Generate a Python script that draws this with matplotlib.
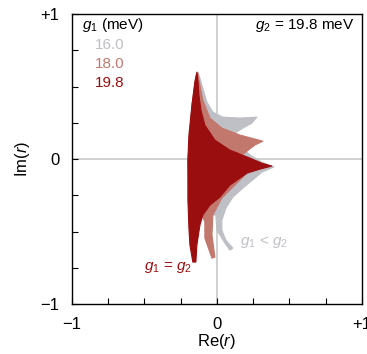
import matplotlib
matplotlib.use("Agg")
import matplotlib.pyplot as plt
from matplotlib.ticker import MultipleLocator

plt.rcParams.update({
    "font.family": "Liberation Sans",
    "font.size": 10,
    "mathtext.fontset": "custom",
    "mathtext.rm": "Liberation Sans",
    "mathtext.it": "Liberation Sans:italic",
})

# outlines of the regions swept by the r(omega) curves, one per g1 value
g1_labels = ["16.0", "18.0", "19.8"]
colors = ["#bfbfc6", "#c2786d", "#9b0e10"]

re_16 = [-0.131, -0.117, -0.103, -0.069, -0.028, 0.041, 0.159, 0.276, 0.241, 0.179,
         0.124, 0.159, 0.228, 0.310, 0.393, 0.310, 0.262, 0.179, 0.110, 0.062,
         0.034, 0.034, 0.062, 0.110, 0.090, 0.055, 0.000, -0.007, -0.117, -0.186,
         -0.200, -0.172, -0.145]
im_16 = [0.600, 0.559, 0.510, 0.393, 0.324, 0.290, 0.283, 0.290, 0.248, 0.214,
         0.179, 0.097, 0.028, -0.021, -0.055, -0.090, -0.131, -0.200, -0.262, -0.338,
         -0.421, -0.490, -0.559, -0.614, -0.628, -0.579, -0.490, -0.386, -0.386, -0.490,
         -0.007, 0.372, 0.572]

re_18 = [-0.131, -0.124, -0.097, -0.048, 0.034, 0.159, 0.317, 0.262, 0.172, 0.228,
         0.207, 0.124, 0.034, -0.028, -0.034, -0.014, -0.034, -0.083, -0.083, -0.117,
         -0.186, -0.200, -0.172, -0.145]
im_18 = [0.593, 0.545, 0.407, 0.283, 0.214, 0.166, 0.124, 0.097, 0.028, -0.041,
         -0.097, -0.179, -0.269, -0.386, -0.524, -0.676, -0.683, -0.545, -0.434, -0.352,
         -0.421, -0.007, 0.372, 0.572]

re_198 = [-0.138, -0.131, -0.124, -0.110, -0.083, -0.014, 0.090, 0.228, 0.310, 0.379,
          0.297, 0.207, 0.090, 0.021, -0.048, -0.097, -0.117, -0.138, -0.145, -0.166,
          -0.186, -0.193, -0.200, -0.200, -0.193, -0.172, -0.152]
im_198 = [0.600, 0.545, 0.441, 0.338, 0.234, 0.131, 0.062, 0.007, -0.028, -0.048,
          -0.069, -0.097, -0.179, -0.262, -0.317, -0.386, -0.455, -0.593, -0.710, -0.710,
          -0.593, -0.476, -0.283, -0.007, 0.166, 0.372, 0.531]

fig = plt.figure(figsize=(3.67, 3.54), dpi=100)
ax = fig.add_axes([0.196, 0.141, 0.790, 0.819])

ax.axhline(0, color="#c8c8c8", lw=1.2, zorder=0)
ax.axvline(0, color="#c8c8c8", lw=1.2, zorder=0)

for xs, ys, c in zip([re_16, re_18, re_198], [im_16, im_18, im_198], colors):
    ax.fill(xs, ys, color=c, lw=0.8, ec=c, joinstyle="round", zorder=2)

ax.set_xlim(-1, 1)
ax.set_ylim(-1, 1)
ax.set_xticks([-1, 0, 1])
ax.set_xticklabels(["\u22121", "0", "+1"])
ax.set_yticks([-1, 0, 1])
ax.set_yticklabels(["\u22121", "0", "+1"])
ax.xaxis.set_minor_locator(MultipleLocator(0.25))
ax.yaxis.set_minor_locator(MultipleLocator(0.25))
ax.tick_params(which="both", direction="in", length=4, width=0.8, top=False, right=False,
               labelsize=12)
ax.tick_params(axis="x", pad=9)
ax.tick_params(axis="y", pad=9)
for s in ax.spines.values():
    s.set_linewidth(1.0)

ax.set_xlabel("Re($r$)", fontsize=12, labelpad=0)
ax.set_ylabel("Im($r$)", fontsize=12, labelpad=6)

ax.text(0.035, 0.962, "$g_1$ (meV)", transform=ax.transAxes, ha="left", va="center", fontsize=11)
for i, (lab, c) in enumerate(zip(g1_labels, colors)):
    ax.text(0.08, 0.893 - i * 0.0645, lab, color=c, transform=ax.transAxes,
            ha="left", va="center", fontsize=11)
ax.text(0.975, 0.962, "$g_2$ = 19.8 meV", transform=ax.transAxes, ha="right", va="center",
        fontsize=11)

ax.text(-0.5, -0.75, "$g_1$ = $g_2$", color=colors[2], fontsize=11, ha="left", va="center")
ax.text(0.16, -0.57, "$g_1$ < $g_2$", color=colors[0], fontsize=11, ha="left", va="center")

fig.savefig("out.png", dpi=100)
